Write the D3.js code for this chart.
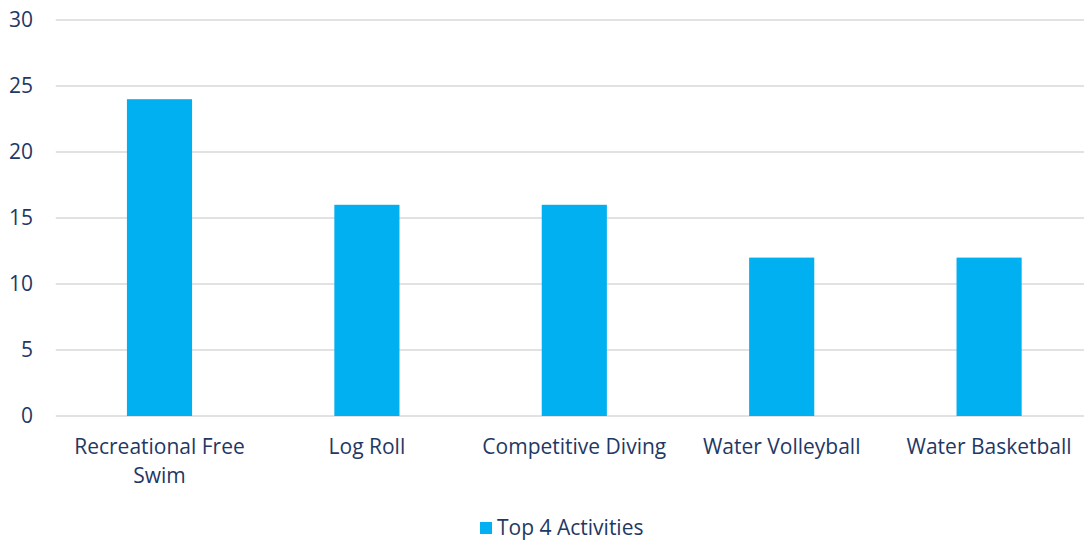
<!DOCTYPE html>
<html><head><meta charset="utf-8">
<script src="https://cdn.jsdelivr.net/npm/d3@7"></script>
<style>body{margin:0;background:#fff;}svg{display:block;font-family:"Open Sans",Lato,sans-serif;}</style>
</head><body>
<svg id="c" width="1084" height="541"></svg>
<script>
const categories = ["Recreational Free Swim","Log Roll","Competitive Diving","Water Volleyball","Water Basketball"];
const values = [24,16,16,12,12];
const yTicks = [0,5,10,15,20,25,30];
const seriesName = "Top 4 Activities";

(function(){
const textColor = "#1F3864";
const barColor = "#00B0F0";
const fs = 21;
const svg = d3.select("#c");
const pLeft = 55.8, pRight = 1092.8, pTop = 20, pBottom = 416;

const x = d3.scaleBand().domain(categories).range([pLeft,pRight]).paddingInner(0.686).paddingOuter(0.343);
const y = d3.scaleLinear().domain([0,30]).range([pBottom,pTop]);

svg.append("g").selectAll("line").data(yTicks).join("line")
  .attr("x1",pLeft).attr("x2",1084).attr("y1",d=>y(d)).attr("y2",d=>y(d))
  .attr("stroke","#D9D9D9").attr("stroke-width",1.5);

svg.append("g").selectAll("text").data(yTicks).join("text")
  .attr("x",33).attr("y",d=>y(d)).attr("dy","0.35em").attr("text-anchor","end")
  .attr("fill",textColor).attr("font-size",fs).text(d=>d);

svg.append("g").selectAll("rect").data(values).join("rect")
  .attr("x",(d,i)=>x(categories[i])).attr("width",x.bandwidth())
  .attr("y",d=>y(d)).attr("height",d=>y(0)-y(d)).attr("fill",barColor);

const wrap = {"Recreational Free Swim":["Recreational Free","Swim"]};
const xl = svg.append("g");
categories.forEach(c=>{
  const lines = wrap[c]||[c];
  const t = xl.append("text").attr("text-anchor","middle").attr("fill",textColor).attr("font-size",fs);
  lines.forEach((l,i)=>t.append("tspan").attr("x",x(c)+x.bandwidth()/2).attr("y",454+i*29).text(l));
});

const lg = svg.append("g");
lg.append("rect").attr("x",480).attr("y",522).attr("width",12).attr("height",12).attr("fill",barColor);
lg.append("text").attr("x",497).attr("y",528).attr("dy","0.35em").attr("fill",textColor).attr("font-size",fs).text(seriesName);
})();
</script>
</body></html>
